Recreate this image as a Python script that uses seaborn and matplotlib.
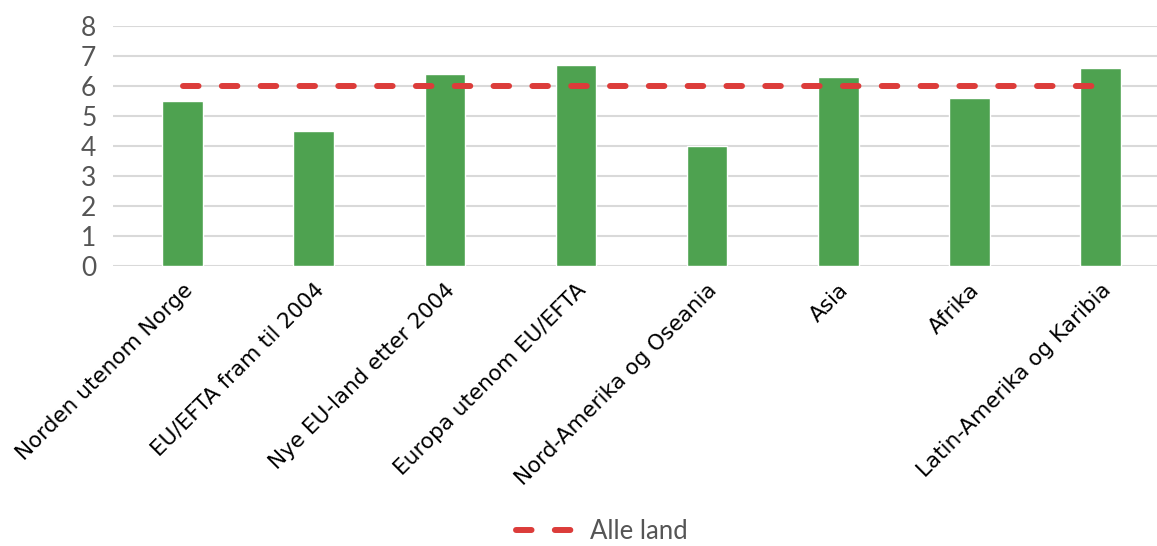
import matplotlib
matplotlib.use("Agg")
import matplotlib.pyplot as plt
import seaborn as sns
import numpy as np

categories = ["Norden utenom Norge", "EU/EFTA fram til 2004", "Nye EU-land etter 2004",
              "Europa utenom EU/EFTA", "Nord-Amerika og Oseania", "Asia", "Afrika",
              "Latin-Amerika og Karibia"]
values = [5.5, 4.5, 6.4, 6.7, 4.0, 6.3, 5.6, 6.6]
all_countries = [6, 6, 6, 6, 6, 6, 6, 6]
y_ticks = [0, 1, 2, 3, 4, 5, 6, 7, 8]

sns.set_style("white")
plt.rcParams["font.family"] = ["DejaVu Sans"]

fig = plt.figure(figsize=(11.57, 5.46), dpi=100)
ax = fig.add_axes([0.0977, 0.513, 0.9023, 0.439])

sns.barplot(x=categories, y=values, width=0.31, color="#4EA250", saturation=1, ax=ax, zorder=2)
ax.plot(range(len(categories)), all_countries, color="#DC3C3A", lw=4.3,
        dashes=(2.6, 3.9), dash_capstyle="round", zorder=3, label="Alle land")

ax.set_ylim(0, 8)
ax.set_xlim(-0.53, 7.43)
ax.set_yticks(y_ticks)
ax.yaxis.grid(True, color="#D9D9D9", lw=1.5, zorder=0)
ax.set_axisbelow(True)
for s in ax.spines.values():
    s.set_visible(False)
ax.tick_params(axis="both", length=0)
ax.tick_params(axis="y", pad=12)
ax.set_yticklabels([str(t) for t in y_ticks], fontsize=19, color="#555555",
                   fontfamily="Lato", fontweight="normal")
ax.set_xticks(range(len(categories)))
ax.set_xticklabels(categories, rotation=45, ha="right", rotation_mode="anchor",
                   fontsize=15.5, color="black")
ax.tick_params(axis="x", pad=10)
ax.set_xlabel("")
ax.set_ylabel("")

leg = fig.legend(loc="lower center", bbox_to_anchor=(0.52, -0.038), frameon=False,
                 handlelength=2.4, handletextpad=0.5,
                 prop={"family": "Lato", "weight": "normal", "size": 18.5})
for t in leg.get_texts():
    t.set_color("#555555")

fig.savefig("out.png", dpi=100)
